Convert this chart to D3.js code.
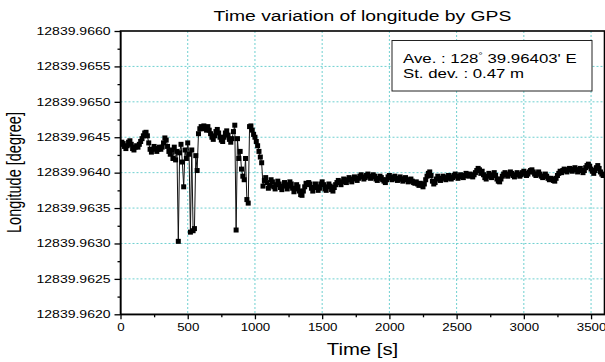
<!DOCTYPE html>
<html><head><meta charset="utf-8">
<script src="https://cdn.jsdelivr.net/npm/d3@7"></script>
<style>
body{margin:0;background:#fff}
svg{display:block}
text{font-family:"Liberation Sans",Arial,Helvetica,sans-serif;fill:#000}
</style>
</head><body>
<svg id="chart" width="605" height="362"></svg>
<script>
// ---------- data ----------
const chartTitle = "Time variation of longitude by GPS";
const xTitle = "Time [s]";
const yTitle = "Longitude [degree]";
const legendAve = ["Ave. : 128", "°", " 39.96403' E"];
const legendStd = "St. dev. : 0.47 m";
const xTicks = [0, 500, 1000, 1500, 2000, 2500, 3000, 3500];
const yTicks = [12839.9620, 12839.9625, 12839.9630, 12839.9635, 12839.9640,
                12839.9645, 12839.9650, 12839.9655, 12839.9660];
const xDomain = [0, 3600];
// sample times: one GPS fix every 10 s, 0 ... 3600 s
const times = d3.range(0, 3601, 10);
const longitude = [
12839.96440,12839.96443,12839.96441,12839.96437,12839.96434,12839.96438,12839.96443,12839.96445,12839.96440,12839.96434,
12839.96432,12839.96436,12839.96438,12839.96436,12839.96440,12839.96444,12839.96448,12839.96452,12839.96456,12839.96457,
12839.96452,12839.96442,12839.96433,12839.96429,12839.96433,12839.96437,12839.96434,12839.96430,12839.96433,12839.96436,
12839.96433,12839.96436,12839.96442,12839.96449,12839.96446,12839.96437,12839.96430,12839.96426,12839.96432,12839.96420,
12839.96436,12839.96418,12839.96430,12839.96303,12839.96428,12839.96440,12839.96415,12839.96380,12839.96432,12839.96420,
12839.96442,12839.96426,12839.96316,12839.96432,12839.96318,12839.96321,12839.96424,12839.96403,12839.96455,12839.96462,
12839.96465,12839.96462,12839.96466,12839.96463,12839.96460,12839.96465,12839.96460,12839.96455,12839.96450,12839.96447,
12839.96452,12839.96458,12839.96461,12839.96456,12839.96450,12839.96446,12839.96444,12839.96450,12839.96456,12839.96459,
12839.96453,12839.96447,12839.96443,12839.96448,12839.96458,12839.96467,12839.96319,12839.96448,12839.96420,12839.96430,
12839.96405,12839.96395,12839.96390,12839.96420,12839.96362,12839.96357,12839.96465,12839.96466,12839.96460,12839.96454,
12839.96450,12839.96444,12839.96438,12839.96430,12839.96422,12839.96414,12839.96381,12839.96389,12839.96393,12839.96386,
12839.96378,12839.96382,12839.96390,12839.96387,12839.96380,12839.96377,12839.96383,12839.96388,12839.96384,12839.96379,
12839.96376,12839.96381,12839.96386,12839.96383,12839.96377,12839.96381,12839.96387,12839.96384,12839.96378,12839.96373,
12839.96377,12839.96383,12839.96380,12839.96374,12839.96369,12839.96368,12839.96374,12839.96380,12839.96385,12839.96383,
12839.96386,12839.96384,12839.96378,12839.96374,12839.96379,12839.96384,12839.96380,12839.96375,12839.96378,12839.96384,
12839.96387,12839.96383,12839.96377,12839.96375,12839.96380,12839.96384,12839.96381,12839.96376,12839.96374,12839.96379,
12839.96383,12839.96386,12839.96389,12839.96386,12839.96383,12839.96387,12839.96391,12839.96388,12839.96386,12839.96390,
12839.96393,12839.96390,12839.96387,12839.96391,12839.96394,12839.96392,12839.96389,12839.96392,12839.96395,12839.96397,
12839.96394,12839.96391,12839.96393,12839.96396,12839.96398,12839.96395,12839.96392,12839.96394,12839.96397,12839.96395,
12839.96391,12839.96389,12839.96392,12839.96395,12839.96393,12839.96390,12839.96388,12839.96386,12839.96390,12839.96394,
12839.96396,12839.96393,12839.96390,12839.96392,12839.96395,12839.96392,12839.96389,12839.96391,12839.96394,12839.96391,
12839.96388,12839.96391,12839.96393,12839.96390,12839.96387,12839.96389,12839.96391,12839.96388,12839.96386,12839.96385,
12839.96387,12839.96384,12839.96382,12839.96385,12839.96383,12839.96380,12839.96384,12839.96390,12839.96395,12839.96399,
12839.96401,12839.96396,12839.96388,12839.96384,12839.96386,12839.96391,12839.96395,12839.96392,12839.96389,12839.96392,
12839.96395,12839.96393,12839.96390,12839.96392,12839.96396,12839.96394,12839.96391,12839.96393,12839.96396,12839.96398,
12839.96395,12839.96392,12839.96394,12839.96397,12839.96395,12839.96393,12839.96396,12839.96399,12839.96397,12839.96395,
12839.96398,12839.96396,12839.96394,12839.96397,12839.96400,12839.96403,12839.96406,12839.96404,12839.96399,12839.96402,
12839.96397,12839.96393,12839.96391,12839.96395,12839.96399,12839.96396,12839.96393,12839.96397,12839.96400,12839.96396,
12839.96391,12839.96388,12839.96387,12839.96391,12839.96395,12839.96398,12839.96400,12839.96397,12839.96395,12839.96398,
12839.96401,12839.96399,12839.96396,12839.96394,12839.96397,12839.96400,12839.96398,12839.96395,12839.96397,12839.96400,
12839.96402,12839.96399,12839.96396,12839.96398,12839.96401,12839.96403,12839.96404,12839.96401,12839.96398,12839.96396,
12839.96398,12839.96401,12839.96398,12839.96395,12839.96393,12839.96395,12839.96398,12839.96395,12839.96392,12839.96390,
12839.96392,12839.96391,12839.96389,12839.96388,12839.96392,12839.96396,12839.96399,12839.96402,12839.96400,12839.96403,
12839.96405,12839.96403,12839.96401,12839.96404,12839.96406,12839.96404,12839.96402,12839.96405,12839.96407,12839.96404,
12839.96401,12839.96404,12839.96406,12839.96403,12839.96400,12839.96403,12839.96407,12839.96410,12839.96412,12839.96409,
12839.96405,12839.96402,12839.96399,12839.96403,12839.96407,12839.96410,12839.96406,12839.96401,12839.96398,12839.96396,
12839.96397
];

// ---------- layout ----------
const svg = d3.select("#chart");
const L = 120.5, R = 604.5, T = 31, B = 314.3;
const x = d3.scaleLinear().domain(xDomain).range([L, R]);
const y = d3.scaleLinear().domain([yTicks[0], yTicks[yTicks.length - 1]]).range([B, T]);
const gridColor = "#6fd0d0";

function stretch(sel, f) {
  sel.each(function () {
    const w = this.getComputedTextLength();
    this.setAttribute("textLength", w * f);
    this.setAttribute("lengthAdjust", "spacingAndGlyphs");
  });
}

// grid
const grid = svg.append("g");
grid.selectAll("line.gx").data(xTicks.filter(d => d > xDomain[0])).join("line")
  .attr("x1", d => x(d)).attr("x2", d => x(d)).attr("y1", T).attr("y2", B)
  .attr("stroke", gridColor).attr("stroke-width", 1).attr("stroke-dasharray", "2,2");
grid.selectAll("line.gy").data(yTicks.slice(1, -1)).join("line")
  .attr("y1", d => y(d)).attr("y2", d => y(d)).attr("x1", L).attr("x2", R)
  .attr("stroke", gridColor).attr("stroke-width", 1).attr("stroke-dasharray", "2,2");

// data
svg.append("clipPath").attr("id", "clip").append("rect")
  .attr("x", L).attr("y", T).attr("width", R - L).attr("height", B - T);
const pts = times.map((t, i) => [t, longitude[i]]);
const plot = svg.append("g").attr("clip-path", "url(#clip)");
plot.append("path").datum(pts)
  .attr("fill", "none").attr("stroke", "#111").attr("stroke-width", 1)
  .attr("d", d3.line().x(d => x(d[0])).y(d => y(d[1])));
const ms = 5;
plot.selectAll("rect.m").data(pts).join("rect")
  .attr("x", d => x(d[0]) - ms / 2).attr("y", d => y(d[1]) - ms / 2)
  .attr("width", ms).attr("height", ms).attr("fill", "#000");

// axes
const yMinor = d3.pairs(yTicks, (a, b) => (a + b) / 2);
const xMinor = d3.pairs(xTicks.concat([xDomain[1] + 100]), (a, b) => (a + b) / 2).filter(d => d < xDomain[1]);

const gy = svg.append("g").attr("transform", `translate(${L},0)`)
  .call(d3.axisLeft(y).tickValues(yTicks).tickFormat(d3.format(".4f")).tickSize(6).tickPadding(4).tickSizeOuter(0));
svg.append("g").attr("transform", `translate(${L},0)`)
  .call(d3.axisLeft(y).tickValues(yMinor).tickFormat("").tickSize(3).tickSizeOuter(0))
  .select(".domain").remove();
const gx = svg.append("g").attr("transform", `translate(0,${B})`)
  .call(d3.axisBottom(x).tickValues(xTicks).tickFormat(d3.format("d")).tickSize(5).tickPadding(5).tickSizeOuter(0));
svg.append("g").attr("transform", `translate(0,${B})`)
  .call(d3.axisBottom(x).tickValues(xMinor).tickFormat("").tickSize(3).tickSizeOuter(0))
  .select(".domain").remove();

svg.selectAll(".tick line").attr("stroke", "#000").attr("stroke-width", 1.3);
gy.selectAll("text").attr("font-size", 10).attr("font-family", '"Liberation Sans",Arial,sans-serif').attr("fill", "#111");
gx.selectAll("text").attr("font-size", 10).attr("font-family", '"Liberation Sans",Arial,sans-serif').attr("fill", "#111");
stretch(gy.selectAll("text"), 1.4);
stretch(gx.selectAll("text"), 1.33);

// frame
svg.append("rect").attr("x", L).attr("y", T).attr("width", R - L).attr("height", B - T)
  .attr("fill", "none").attr("stroke", "#000").attr("stroke-width", 1.6);

// title
const tt = svg.append("text").attr("x", (L + R) / 2).attr("y", 21).attr("text-anchor", "middle")
  .attr("font-size", 14).text(chartTitle);
stretch(tt, 1.38);

// axis titles
const xt = svg.append("text").attr("x", (L + R) / 2).attr("y", 355).attr("text-anchor", "middle")
  .attr("font-size", 16).text(xTitle);
stretch(xt, 1.27);
svg.append("text").attr("transform", "translate(21,172.5) scale(1.35,1) rotate(-90)")
  .attr("text-anchor", "middle").attr("font-size", 14.5).text(yTitle);

// legend box
svg.append("rect").attr("x", 392).attr("y", 40.5).attr("width", 200).attr("height", 50.5)
  .attr("fill", "#fff").attr("stroke", "#222").attr("stroke-width", 1);
const l1 = svg.append("text").attr("x", 403).attr("y", 63).attr("font-size", 12);
l1.append("tspan").text(legendAve[0]);
l1.append("tspan").attr("font-size", 8).attr("dy", -5).text(legendAve[1]);
l1.append("tspan").attr("dy", 5).text(legendAve[2]);
stretch(l1, 1.4);
const l2 = svg.append("text").attr("x", 403).attr("y", 78).attr("font-size", 12).text(legendStd);
stretch(l2, 1.4);
</script>
</body></html>
